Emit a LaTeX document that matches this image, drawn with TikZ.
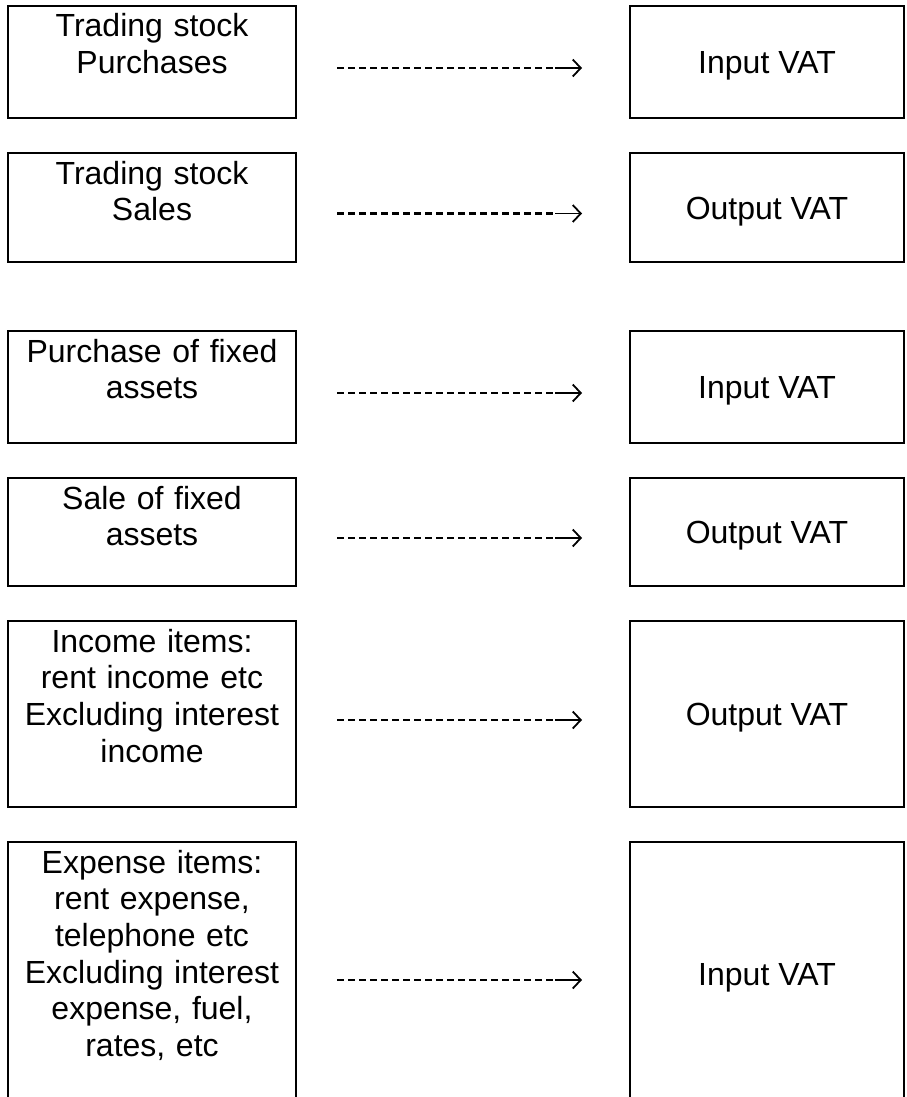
\documentclass[tikz,border=0pt]{standalone}
\usepackage{fontspec}
\setmainfont{Liberation Sans}
\usetikzlibrary{positioning,arrows.meta}

\begin{document}
\begin{tikzpicture}[x=1pt, y=-1pt, node distance={35pt},
    item/.style = {draw, line width=2.2pt, inner sep=0pt, outer sep=0pt, text width=284pt, minimum width=288pt, align=center, text height=31pt, font=\fontsize{32}{36.7}\selectfont},
    vat/.style = {draw, line width=2.2pt, inner sep=0pt, outer sep=0pt, minimum width=274pt, text height=23pt, text depth=0pt, font=\fontsize{32}{36.7}\selectfont},
    dashes/.style = {line width=2.2pt, dash pattern=on 7pt off 4pt, shorten <=41pt, shorten >=75pt},
    tip/.style = {line width=1.8pt, shorten <=259pt, shorten >=48pt, -{Straight Barb[length=8pt,width=17pt]}}
    ]
\clip (0,0) rectangle (906,1097);

\node[item, text depth=81pt, anchor=north west] (0) at (8,6) {Trading stock\\Purchases};
\node[item, text depth=78pt] (1) [below=of 0] {Trading stock\\Sales};
\node[item, text depth=81pt] (2) [below=69pt of 1] {Purchase of fixed\\assets};
\node[item, text depth=77pt] (3) [below=of 2] {Sale of fixed\\assets};
\node[item, text depth=155pt] (4) [below=of 3] {Income items:\\rent income etc\\Excluding interest\\income};
\node[item, text depth=233pt] (5) [below=of 4] {Expense items:\\rent expense,\\telephone etc\\Excluding interest\\expense, fuel,\\rates, etc};

\node[vat, minimum height=112pt] (6) [right=334pt of 0] {Input VAT};
\node[vat, minimum height=109pt] (7) [right=334pt of 1] {Output VAT};
\node[vat, minimum height=112pt] (8) [right=334pt of 2] {Input VAT};
\node[vat, minimum height=108pt] (9) [right=334pt of 3] {Output VAT};
\node[vat, minimum height=186pt] (10) [right=334pt of 4] {Output VAT};
\node[vat, minimum height=264pt] (11) [right=334pt of 5] {Input VAT};

\draw[dashes] ([yshift=-6pt]0.east) -- ([yshift=-6pt]6.west);
\draw[dashes] ([yshift=-6pt]1.east) -- ([yshift=-6pt]7.west);
\draw[dashes] ([yshift=-6pt]2.east) -- ([yshift=-6pt]8.west);
\draw[dashes] ([yshift=-6pt]3.east) -- ([yshift=-6pt]9.west);
\draw[dashes] ([yshift=-6pt]4.east) -- ([yshift=-6pt]10.west);
\draw[dashes] ([yshift=-6pt]5.east) -- ([yshift=-6pt]11.west);

\draw[tip] ([yshift=-6pt]0.east) -- ([yshift=-6pt]6.west);
\draw[tip] ([yshift=-6pt]1.east) -- ([yshift=-6pt]7.west);
\draw[tip] ([yshift=-6pt]2.east) -- ([yshift=-6pt]8.west);
\draw[tip] ([yshift=-6pt]3.east) -- ([yshift=-6pt]9.west);
\draw[tip] ([yshift=-6pt]4.east) -- ([yshift=-6pt]10.west);
\draw[tip] ([yshift=-6pt]5.east) -- ([yshift=-6pt]11.west);

\end{tikzpicture}
\end{document}
